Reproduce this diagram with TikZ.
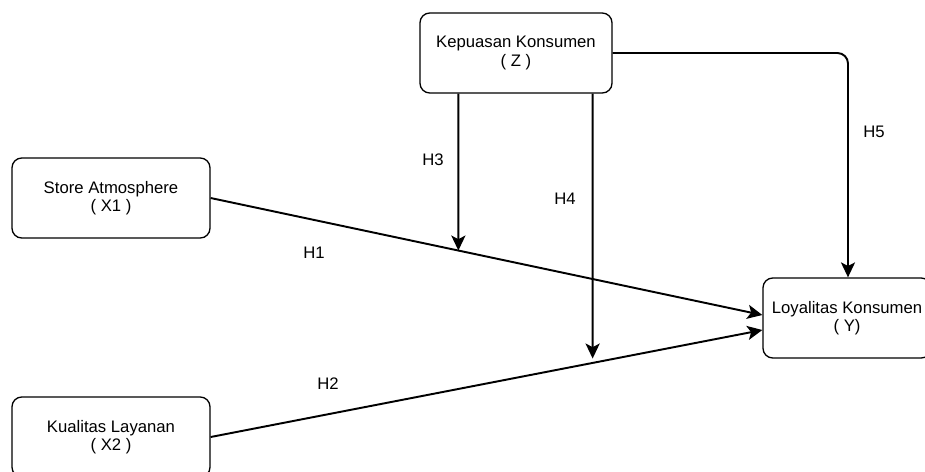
\documentclass[tikz,border=0pt]{standalone}
\usepackage{fontspec}
\setmainfont{Liberation Sans}
\usetikzlibrary{arrows.meta,calc,positioning}
\tikzset{%
box/.style={draw, rounded corners=5.5pt, line width=0.75pt, minimum height=1.6cm,
  align=center, inner sep=0pt, font=\fontsize{9.5}{10.5}\selectfont},
link/.style={line width=1.1pt, -{Stealth[length=8.5pt,width=8pt,inset=2pt]}},
hlabel/.style={inner sep=1pt, font=\fontsize{9.5}{10.5}\selectfont}
}

\begin{document}
\begin{tikzpicture}[x=0.02cm,y=-0.02cm]
\useasboundingbox (0,0) rectangle (925,471);
\clip (0,0) rectangle (925,471);

\node[box, minimum width=3.84cm] (z) at (516,53) {Kepuasan Konsumen\\( Z )};
\node[box, minimum width=3.96cm] (x1) at (111,198) {Store Atmosphere\\( X1 )};
\node[box, minimum width=3.96cm] (x2) at (111,437) {Kualitas Layanan\\( X2 )};
\node[box, minimum width=3.36cm] (y) at (847,318) {Loyalitas Konsumen\\( Y)};

% end points on Y and start points under Z
\coordinate (y1) at ($(y.west)+(0,-3)$);
\coordinate (y2) at ($(y.west)+(0,12)$);
\coordinate (z3) at ($(z.south west)+(39,0)$);
\coordinate (z4) at ($(z.south east)+(-20,0)$);
\coordinate (z3low) at ($(z3)+(0,300)$);
\coordinate (z4low) at ($(z4)+(0,400)$);

\draw[link] (x1.east) -- (y1);
\draw[link] (x2.east) -- (y2);
\draw[link] (z3) -- (intersection of z3--z3low and x1.east--y1);
\draw[link, shorten >=2.5pt] (z4) -- (intersection of z4--z4low and x2.east--y2);
\draw[link, rounded corners=6pt] (z.east) -| ($(y.north)+(1,0)$);

\node[hlabel] (h1) at (314,253) {H1};
\node[hlabel] (h2) at (328,384) {H2};
\node[hlabel] (h3) at (433,160) {H3};
\node[hlabel] (h4) at (565,199) {H4};
\node[hlabel] (h5) at (874,132) {H5};
\end{tikzpicture}
\end{document}
